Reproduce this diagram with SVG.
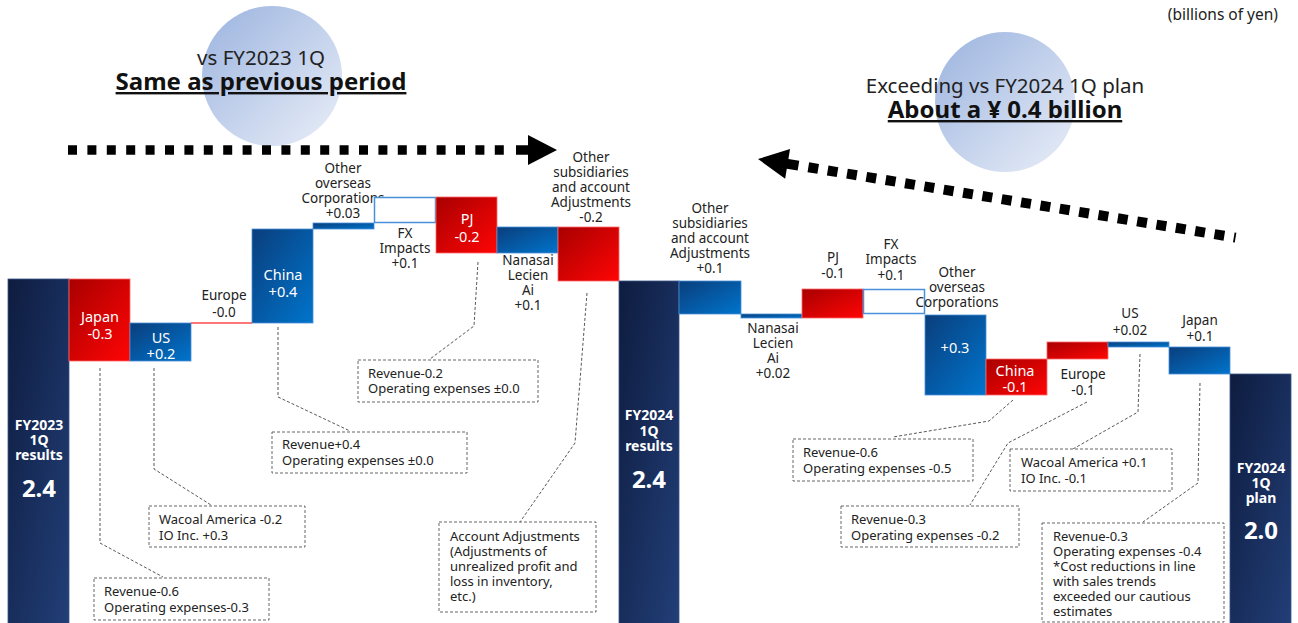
<svg xmlns="http://www.w3.org/2000/svg" width="1298" height="623" viewBox="0 0 1298 623">
<defs>
<linearGradient id="gCircle" x1="0" y1="0" x2="1" y2="1">
<stop offset="0" stop-color="#9bb3df"/>
<stop offset="1" stop-color="#eaeff8"/>
</linearGradient>
<linearGradient id="gNavy" x1="0" y1="0" x2="1" y2="1">
<stop offset="0" stop-color="#0e1c3f"/>
<stop offset="1" stop-color="#223f78"/>
</linearGradient>
<linearGradient id="gBlue" x1="0" y1="0" x2="1" y2="1">
<stop offset="0" stop-color="#0a3e7c"/>
<stop offset="1" stop-color="#0074cc"/>
</linearGradient>
<linearGradient id="gRed" x1="0" y1="0" x2="1" y2="1">
<stop offset="0" stop-color="#a80000"/>
<stop offset="1" stop-color="#ff0505"/>
</linearGradient>
<style>
text{font-family:"Noto Sans","Liberation Sans",sans-serif}
.lbl{font-size:13.5px;fill:#222;text-anchor:middle}
.wl{font-size:14.5px;fill:#fff;text-anchor:middle}
.big{font-size:14px;font-weight:bold;fill:#fff;text-anchor:middle}
.val{font-size:24px;font-weight:bold;fill:#fff;text-anchor:middle}
.note{font-size:13px;fill:#222}
.box{fill:#fff;stroke:#555;stroke-width:0.9;stroke-dasharray:3 2}
.leader{fill:none;stroke:#444;stroke-width:0.9;stroke-dasharray:3 2}
.navy{fill:url(#gNavy);stroke:#3a5588;stroke-width:0.8}
.blue{fill:url(#gBlue);stroke:#4a8fd6;stroke-width:0.8}
.red{fill:url(#gRed);stroke:#ff6a6a;stroke-width:0.8}
.fx{fill:#fff;stroke:#4a90d9;stroke-width:1.5}
.dots{stroke:#000;fill:none}
.sub{font-size:20.5px;fill:#222;text-anchor:middle}
.head{font-size:24px;font-weight:bold;fill:#111;text-anchor:middle;text-decoration:underline}
</style>
</defs>
<rect width="1298" height="623" fill="#fff"/>

<g id="unit"><text x="1278" y="20" style="font-size:15.5px;fill:#222" text-anchor="end">(billions of yen)</text></g>

<g id="title-left">
<circle cx="272" cy="76" r="70" fill="url(#gCircle)"/>
<text x="261" y="65" class="sub">vs FY2023 1Q</text>
<text x="261" y="90" class="head">Same as previous period</text>
</g>
<g id="title-right">
<circle cx="1005" cy="102" r="70" fill="url(#gCircle)"/>
<text x="1005" y="93" class="sub">Exceeding vs FY2024 1Q plan</text>
<text x="1005" y="118" class="head">About a ¥ 0.4 billion</text>
</g>

<g id="connectors">
<line class="dots" x1="68" y1="150" x2="512" y2="150" stroke-width="9.5" stroke-dasharray="9 10.4"/>
<polygon points="516,145.3 528,145.3 528,135 557,150 528,165 528,154.7 516,154.7" fill="#000"/>
<g transform="translate(758,159) rotate(9.35)">
<polygon points="0,0 30,-15 30,-5 41,-5 41,5 30,5 30,15" fill="#000"/>
<line class="dots" x1="51" y1="0" x2="484" y2="0" stroke-width="10" stroke-dasharray="10 9.6"/>
</g>
<polyline class="leader" points="100,368 100,543 163,577"/>
<polyline class="leader" points="154,368 154,469 211,505"/>
<polyline class="leader" points="278,327 278,397 350,431"/>
<polyline class="leader" points="478,262 474,326 430,359"/>
<polyline class="leader" points="587,293 575,443 520,522"/>
<polyline class="leader" points="1013,400 989,421 893,437"/>
<polyline class="leader" points="1087,402 1008,443 970,505"/>
<polyline class="leader" points="1140,354 1138,412 1073,449"/>
<polyline class="leader" points="1200,383 1198,483 1143,522"/>
</g>

<g id="fy2023-results">
<rect class="navy" x="8" y="279" width="61" height="350"/>
<text class="big" x="39" y="430">FY2023</text>
<text class="big" x="39" y="445">1Q</text>
<text class="big" x="39" y="460">results</text>
<text class="val" x="39" y="497">2.4</text>
</g>
<g id="l-japan">
<rect class="red" x="69" y="279" width="61" height="82"/>
<text class="wl" x="100" y="322">Japan</text>
<text class="wl" x="100" y="339">-0.3</text>
</g>
<g id="l-us">
<rect class="blue" x="130" y="323" width="61" height="38"/>
<text class="wl" x="161" y="343">US</text>
<text class="wl" x="161" y="359">+0.2</text>
</g>
<g id="l-europe">
<line x1="191" y1="323" x2="252" y2="323" stroke="#ff4a4a" stroke-width="1.5"/>
<text class="lbl" x="224" y="300">Europe</text>
<text class="lbl" x="224" y="317">-0.0</text>
</g>
<g id="l-china">
<rect class="blue" x="252" y="229" width="61" height="94"/>
<text class="wl" x="283" y="280">China</text>
<text class="wl" x="283" y="297">+0.4</text>
</g>
<g id="l-other-overseas">
<rect class="blue" x="313" y="223" width="61" height="6"/>
<text class="lbl" x="343" y="173">Other</text>
<text class="lbl" x="343" y="188">overseas</text>
<text class="lbl" x="343" y="203">Corporations</text>
<text class="lbl" x="343" y="218">+0.03</text>
</g>
<g id="l-fx">
<rect class="fx" x="374.5" y="197.5" width="61" height="25"/>
<text class="lbl" x="405" y="238">FX</text>
<text class="lbl" x="405" y="253">Impacts</text>
<text class="lbl" x="405" y="268">+0.1</text>
</g>
<g id="l-pj">
<rect class="red" x="436" y="197" width="61" height="56"/>
<text class="wl" x="467" y="224">PJ</text>
<text class="wl" x="467" y="242">-0.2</text>
</g>
<g id="l-nanasai">
<rect class="blue" x="497" y="227" width="61" height="26"/>
<text class="lbl" x="528" y="265">Nanasai</text>
<text class="lbl" x="528" y="280">Lecien</text>
<text class="lbl" x="528" y="295">Ai</text>
<text class="lbl" x="528" y="310">+0.1</text>
</g>
<g id="l-other-subs">
<rect class="red" x="558" y="227" width="61" height="54"/>
<text class="lbl" x="591" y="162">Other</text>
<text class="lbl" x="591" y="177">subsidiaries</text>
<text class="lbl" x="591" y="192">and account</text>
<text class="lbl" x="591" y="207">Adjustments</text>
<text class="lbl" x="591" y="222">-0.2</text>
</g>

<g id="fy2024-results">
<rect class="navy" x="619" y="281" width="60" height="350"/>
<text class="big" x="649" y="420">FY2024</text>
<text class="big" x="649" y="436">1Q</text>
<text class="big" x="649" y="451">results</text>
<text class="val" x="649" y="488">2.4</text>
</g>
<g id="r-other-subs">
<rect class="blue" x="679" y="281" width="62" height="33"/>
<text class="lbl" x="710" y="213">Other</text>
<text class="lbl" x="710" y="228">subsidiaries</text>
<text class="lbl" x="710" y="243">and account</text>
<text class="lbl" x="710" y="258">Adjustments</text>
<text class="lbl" x="710" y="273">+0.1</text>
</g>
<g id="r-nanasai">
<rect class="blue" x="741" y="314" width="61" height="4"/>
<text class="lbl" x="773" y="333">Nanasai</text>
<text class="lbl" x="773" y="348">Lecien</text>
<text class="lbl" x="773" y="363">Ai</text>
<text class="lbl" x="773" y="378">+0.02</text>
</g>
<g id="r-pj">
<rect class="red" x="802" y="289" width="61" height="29"/>
<text class="lbl" x="833" y="262">PJ</text>
<text class="lbl" x="833" y="278">-0.1</text>
</g>
<g id="r-fx">
<rect class="fx" x="863.5" y="289.5" width="61" height="24"/>
<text class="lbl" x="891" y="249">FX</text>
<text class="lbl" x="891" y="264">Impacts</text>
<text class="lbl" x="891" y="280">+0.1</text>
</g>
<g id="r-other-overseas">
<rect class="blue" x="925" y="315" width="61" height="80"/>
<text class="lbl" x="957" y="277">Other</text>
<text class="lbl" x="957" y="292">overseas</text>
<text class="lbl" x="957" y="307">Corporations</text>
<text class="wl" x="955" y="353">+0.3</text>
</g>
<g id="r-china">
<rect class="red" x="986" y="359" width="61" height="36"/>
<text class="wl" x="1015" y="376">China</text>
<text class="wl" x="1015" y="392">-0.1</text>
</g>
<g id="r-europe">
<rect class="red" x="1047" y="342" width="61" height="17"/>
<text class="lbl" x="1083" y="379">Europe</text>
<text class="lbl" x="1083" y="395">-0.1</text>
</g>
<g id="r-us">
<rect class="blue" x="1108" y="342" width="61" height="5"/>
<text class="lbl" x="1130" y="318">US</text>
<text class="lbl" x="1130" y="335">+0.02</text>
</g>
<g id="r-japan">
<rect class="blue" x="1169" y="347" width="61" height="27"/>
<text class="lbl" x="1200" y="325">Japan</text>
<text class="lbl" x="1200" y="341">+0.1</text>
</g>
<g id="fy2024-plan">
<rect class="navy" x="1230" y="374" width="61" height="260"/>
<text class="big" x="1261" y="473">FY2024</text>
<text class="big" x="1261" y="488">1Q</text>
<text class="big" x="1261" y="503">plan</text>
<text class="val" x="1261" y="539">2.0</text>
</g>

<g id="note-l-japan">
<rect class="box" x="94" y="578" width="175" height="42"/>
<text class="note" x="104" y="596">Revenue-0.6</text>
<text class="note" x="104" y="612">Operating expenses-0.3</text>
</g>
<g id="note-l-us">
<rect class="box" x="149" y="506" width="156" height="41"/>
<text class="note" x="159" y="524">Wacoal America -0.2</text>
<text class="note" x="159" y="540">IO Inc. +0.3</text>
</g>
<g id="note-l-china">
<rect class="box" x="272" y="432" width="195" height="41"/>
<text class="note" x="282" y="449">Revenue+0.4</text>
<text class="note" x="282" y="465">Operating expenses ±0.0</text>
</g>
<g id="note-l-pj">
<rect class="box" x="358" y="360" width="180" height="42"/>
<text class="note" x="368" y="378">Revenue-0.2</text>
<text class="note" x="368" y="393">Operating expenses ±0.0</text>
</g>
<g id="note-l-adj">
<rect class="box" x="439" y="522" width="157" height="90"/>
<text class="note" x="450" y="541">Account Adjustments</text>
<text class="note" x="450" y="556">(Adjustments of</text>
<text class="note" x="450" y="571">unrealized profit and</text>
<text class="note" x="450" y="586">loss in inventory,</text>
<text class="note" x="450" y="601">etc.)</text>
</g>
<g id="note-r-china">
<rect class="box" x="793" y="439" width="180" height="42"/>
<text class="note" x="803" y="457">Revenue-0.6</text>
<text class="note" x="803" y="473">Operating expenses -0.5</text>
</g>
<g id="note-r-europe">
<rect class="box" x="841" y="506" width="178" height="41"/>
<text class="note" x="851" y="524">Revenue-0.3</text>
<text class="note" x="851" y="540">Operating expenses -0.2</text>
</g>
<g id="note-r-us">
<rect class="box" x="1010" y="449" width="162" height="42"/>
<text class="note" x="1021" y="467">Wacoal America +0.1</text>
<text class="note" x="1021" y="483">IO Inc. -0.1</text>
</g>
<g id="note-r-japan">
<rect class="box" x="1042" y="523" width="182" height="99"/>
<text class="note" x="1053" y="541">Revenue-0.3</text>
<text class="note" x="1053" y="556">Operating expenses -0.4</text>
<text class="note" x="1053" y="571">*Cost reductions in line</text>
<text class="note" x="1053" y="586">with sales trends</text>
<text class="note" x="1053" y="601">exceeded our cautious</text>
<text class="note" x="1053" y="616">estimates</text>
</g>
</svg>
